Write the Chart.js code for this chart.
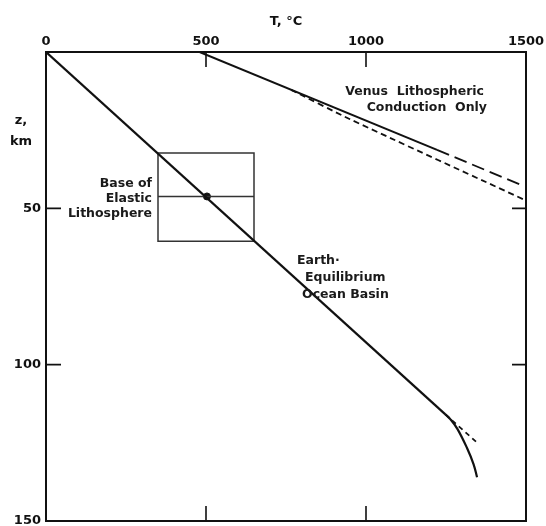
<!DOCTYPE html>
<html>
<head>
<meta charset="utf-8">
<script src="https://cdn.jsdelivr.net/npm/chart.js@4/dist/chart.umd.min.js"></script>
<style>
html,body{margin:0;padding:0;background:#fff;}
#wrap{width:546px;height:526px;}
</style>
</head>
<body>
<div id="wrap"><canvas id="c" width="546" height="526"></canvas></div>
<script>
// ---- data (T in °C, z in km) ----
const xTicks = [0, 500, 1000, 1500];
const xTickLabels = ["0", "500", "1000", "1500"];
const yTicks = [50, 100, 150];
const yTickLabels = ["50", "100", "150"];

const earthT = [0, 1248];
const earthZ = [0, 115.9];
const earthCurveT = [1248, 1264, 1286, 1315, 1336, 1347];
const earthCurveZ = [115.9, 117.5, 120.6, 126.5, 131.8, 136.0];
const earthDashT = [1248, 1349];
const earthDashZ = [115.9, 125.1];

const venusT = [480, 1222];
const venusZ = [0, 31.3];
const venusLongDashT = [1222, 1482];
const venusLongDashZ = [31.3, 42.4];
const venusShortDashT = [766, 950, 1500];
const venusShortDashZ = [12.1, 21.5, 47.5];

const boxT = [350, 650, 650, 350, 350];
const boxZ = [32.3, 32.3, 60.5, 60.5, 32.3];
const baseLineT = [350, 650];
const baseLineZ = [46.2, 46.2];
const baseDotT = [503];
const baseDotZ = [46.2];

function pts(xs, ys){ return xs.map((x,i)=>({x:x, y:ys[i]})); }

const FONT = '"DejaVu Sans", sans-serif';

const framePlugin = {
  id: 'frame',
  afterDraw(chart){
    const ctx = chart.ctx, a = chart.chartArea;
    const xs = chart.scales.x, ys = chart.scales.y;
    ctx.save();
    ctx.strokeStyle = '#111';
    ctx.lineWidth = 2;
    ctx.strokeRect(a.left, a.top, a.right - a.left, a.bottom - a.top);
    ctx.lineWidth = 1.6;
    ctx.beginPath();
    xTicks.forEach(v => {
      if (v <= 0 || v >= 1500) return;
      const px = xs.getPixelForValue(v);
      ctx.moveTo(px, a.top); ctx.lineTo(px, a.top + 15);
      ctx.moveTo(px, a.bottom); ctx.lineTo(px, a.bottom - 15);
    });
    yTicks.forEach(v => {
      if (v >= 150) return;
      const py = ys.getPixelForValue(v);
      ctx.moveTo(a.left, py); ctx.lineTo(a.left + 15, py);
      ctx.moveTo(a.right, py); ctx.lineTo(a.right - 14, py);
    });
    ctx.stroke();

    ctx.fillStyle = '#111';
    ctx.font = 'bold 13px ' + FONT;
    ctx.textAlign = 'center';
    ctx.textBaseline = 'middle';
    xTicks.forEach((v,i) => {
      ctx.fillText(xTickLabels[i], xs.getPixelForValue(v), 42);
    });
    ctx.textAlign = 'right';
    yTicks.forEach((v,i) => {
      ctx.fillText(yTickLabels[i], 41, ys.getPixelForValue(v));
    });
    // axis titles
    ctx.textAlign = 'center';
    ctx.font = 'bold 13px ' + FONT;
    ctx.fillText('T, °C', (a.left + a.right)/2, 22);
    ctx.fillText('z,', 21, 121);
    ctx.fillText('km', 21, 142);

    // annotations
    ctx.font = 'bold 12.5px ' + FONT;
    ctx.fillStyle = '#1a1a1a';
    ctx.textAlign = 'right';
    ctx.fillText('Base of', 152, 184);
    ctx.fillText('Elastic', 152, 199);
    ctx.fillText('Lithosphere', 152, 214);
    ctx.fillText('Venus  Lithospheric', 484, 92);
    ctx.fillText('Conduction  Only', 487, 108);
    ctx.textAlign = 'left';
    ctx.fillText('Earth·', 297, 261);
    ctx.fillText('Equilibrium', 305, 278);
    ctx.fillText('Ocean Basin', 302, 295);
    ctx.restore();
  }
};

const base = {showLine: true, pointRadius: 0, borderColor: '#111', fill: false};

new Chart(document.getElementById('c'), {
  type: 'scatter',
  data: {
    datasets: [
      Object.assign({}, base, {data: pts(earthT, earthZ), borderWidth: 2.2}),
      Object.assign({}, base, {data: pts(earthCurveT, earthCurveZ), borderWidth: 2.2, tension: 0.4}),
      Object.assign({}, base, {data: pts(earthDashT, earthDashZ), borderWidth: 1.8, borderDash: [5, 4]}),
      Object.assign({}, base, {data: pts(venusT, venusZ), borderWidth: 2}),
      Object.assign({}, base, {data: pts(venusLongDashT, venusLongDashZ), borderWidth: 1.8, borderDash: [13, 6]}),
      Object.assign({}, base, {data: pts(venusShortDashT, venusShortDashZ), borderWidth: 1.8, borderDash: [6, 4], tension: 0.2}),
      Object.assign({}, base, {data: pts(boxT, boxZ), borderWidth: 1.5, borderColor: '#333'}),
      Object.assign({}, base, {data: pts(baseLineT, baseLineZ), borderWidth: 1.5, borderColor: '#333'}),
      {data: pts(baseDotT, baseDotZ), showLine: false, pointRadius: 3.5, pointBackgroundColor: '#111', pointBorderColor: '#111'}
    ]
  },
  options: {
    responsive: false,
    animation: false,
    devicePixelRatio: 1,
    layout: {padding: {left: 46, top: 52, right: 20, bottom: 4}},
    plugins: {legend: {display: false}, tooltip: {enabled: false}},
    scales: {
      x: {type: 'linear', min: 0, max: 1500, display: false},
      y: {type: 'linear', min: 0, max: 150, reverse: true, display: false}
    }
  },
  plugins: [framePlugin]
});
</script>
</body>
</html>
